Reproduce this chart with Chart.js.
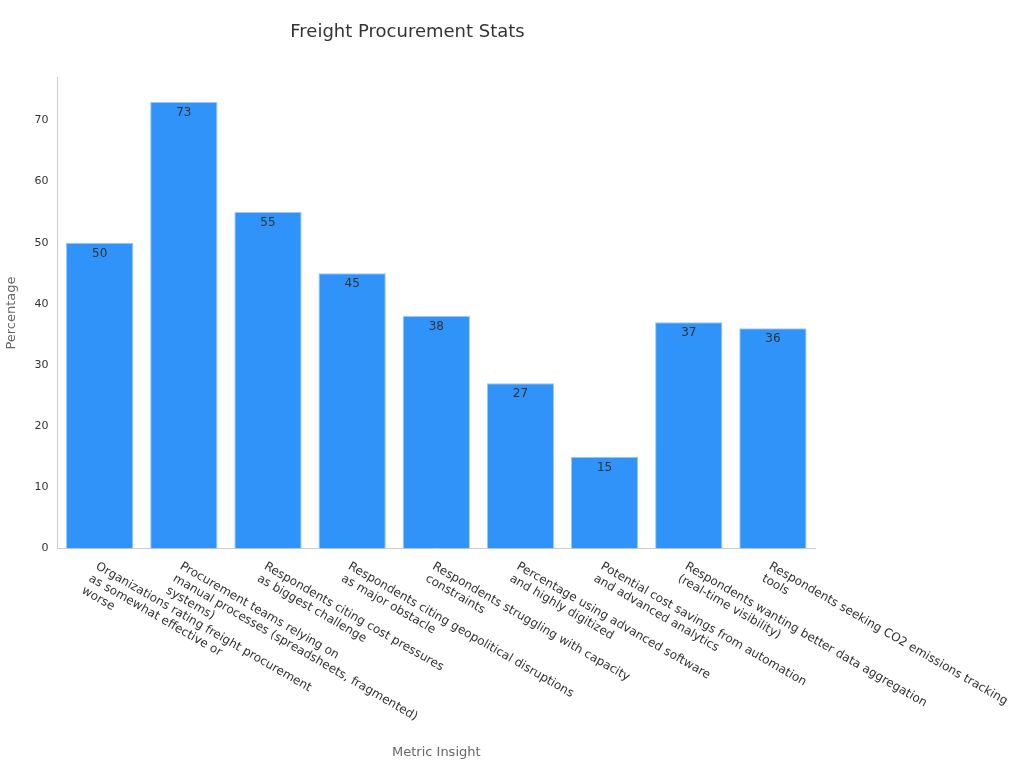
<!DOCTYPE html>
<html><head><meta charset="utf-8">
<script src="https://cdn.jsdelivr.net/npm/chart.js@4"></script>
<style>html,body{margin:0;background:#fff}#w{width:1024px;height:768px}</style>
</head><body><div id="w"><canvas id="c"></canvas></div>
<script>
const categories = [
  ["Organizations rating freight procurement","as somewhat effective or","worse"],
  ["Procurement teams relying on","manual processes (spreadsheets, fragmented)","systems)"],
  ["Respondents citing cost pressures","as biggest challenge"],
  ["Respondents citing geopolitical disruptions","as major obstacle"],
  ["Respondents struggling with capacity","constraints"],
  ["Percentage using advanced software","and highly digitized"],
  ["Potential cost savings from automation","and advanced analytics"],
  ["Respondents wanting better data aggregation","(real-time visibility)"],
  ["Respondents seeking CO2 emissions tracking","tools"]
];
const values = [50, 73, 55, 45, 38, 27, 15, 37, 36];
const yTicks = [0, 10, 20, 30, 40, 50, 60, 70];

const FONT = 'DejaVu Sans';
const labelsPlugin = {
  id: 'lbls',
  afterDraw(chart) {
    const ctx = chart.ctx, xs = chart.scales.x, meta = chart.getDatasetMeta(0);
    ctx.save();
    ctx.font = '12px ' + FONT;
    ctx.fillStyle = '#333';
    ctx.textBaseline = 'top';
    // value labels
    ctx.textAlign = 'center';
    meta.data.forEach((b, i) => ctx.fillText(String(values[i]), b.x, b.y + 5));
    // category labels
    ctx.textAlign = 'left';
    categories.forEach((lines, i) => {
      const x = xs.getPixelForTick(i);
      ctx.save();
      ctx.translate(x, xs.top + 12);
      ctx.rotate(Math.PI / 6);
      lines.forEach((l, j) => ctx.fillText(l, 0, j * 14));
      ctx.restore();
    });
    ctx.restore();
  }
};

new Chart(document.getElementById('c'), {
  type: 'bar',
  data: { labels: categories.map(c => c.join(' ')), datasets: [{
    data: values, backgroundColor: '#2f93f9', borderColor: '#9ccaf8', borderWidth: 1,
    categoryPercentage: 0.8, barPercentage: 1
  }]},
  options: {
    responsive: true, maintainAspectRatio: false, animation: false,
    layout: { padding: { left: 0, right: 209, top: 0, bottom: 4 } },
    plugins: {
      legend: { display: false }, tooltip: { enabled: false },
      title: { display: true, text: 'Freight Procurement Stats', color: '#333',
        font: { family: FONT, size: 18, weight: 'normal' }, padding: { top: 22, bottom: 34 } }
    },
    scales: {
      x: {
        grid: { display: false, drawTicks: true, tickLength: 6 },
        border: { color: '#ccc' },
        ticks: { display: false },
        title: { display: true, text: 'Metric Insight', color: '#666',
          font: { family: FONT, size: 13 }, padding: { top: 190, bottom: 4 } }
      },
      y: {
        min: 0, max: 77,
        afterBuildTicks: s => { s.ticks = yTicks.map(v => ({ value: v })); },
        grid: { display: false, drawTicks: true, tickLength: 6 },
        border: { color: '#ccc' },
        ticks: { color: '#333', font: { family: FONT, size: 11 }, padding: 3 },
        title: { display: true, text: 'Percentage', color: '#666',
          font: { family: FONT, size: 13 }, padding: { bottom: 12 } }
      }
    }
  },
  plugins: [labelsPlugin]
});
</script></body></html>
